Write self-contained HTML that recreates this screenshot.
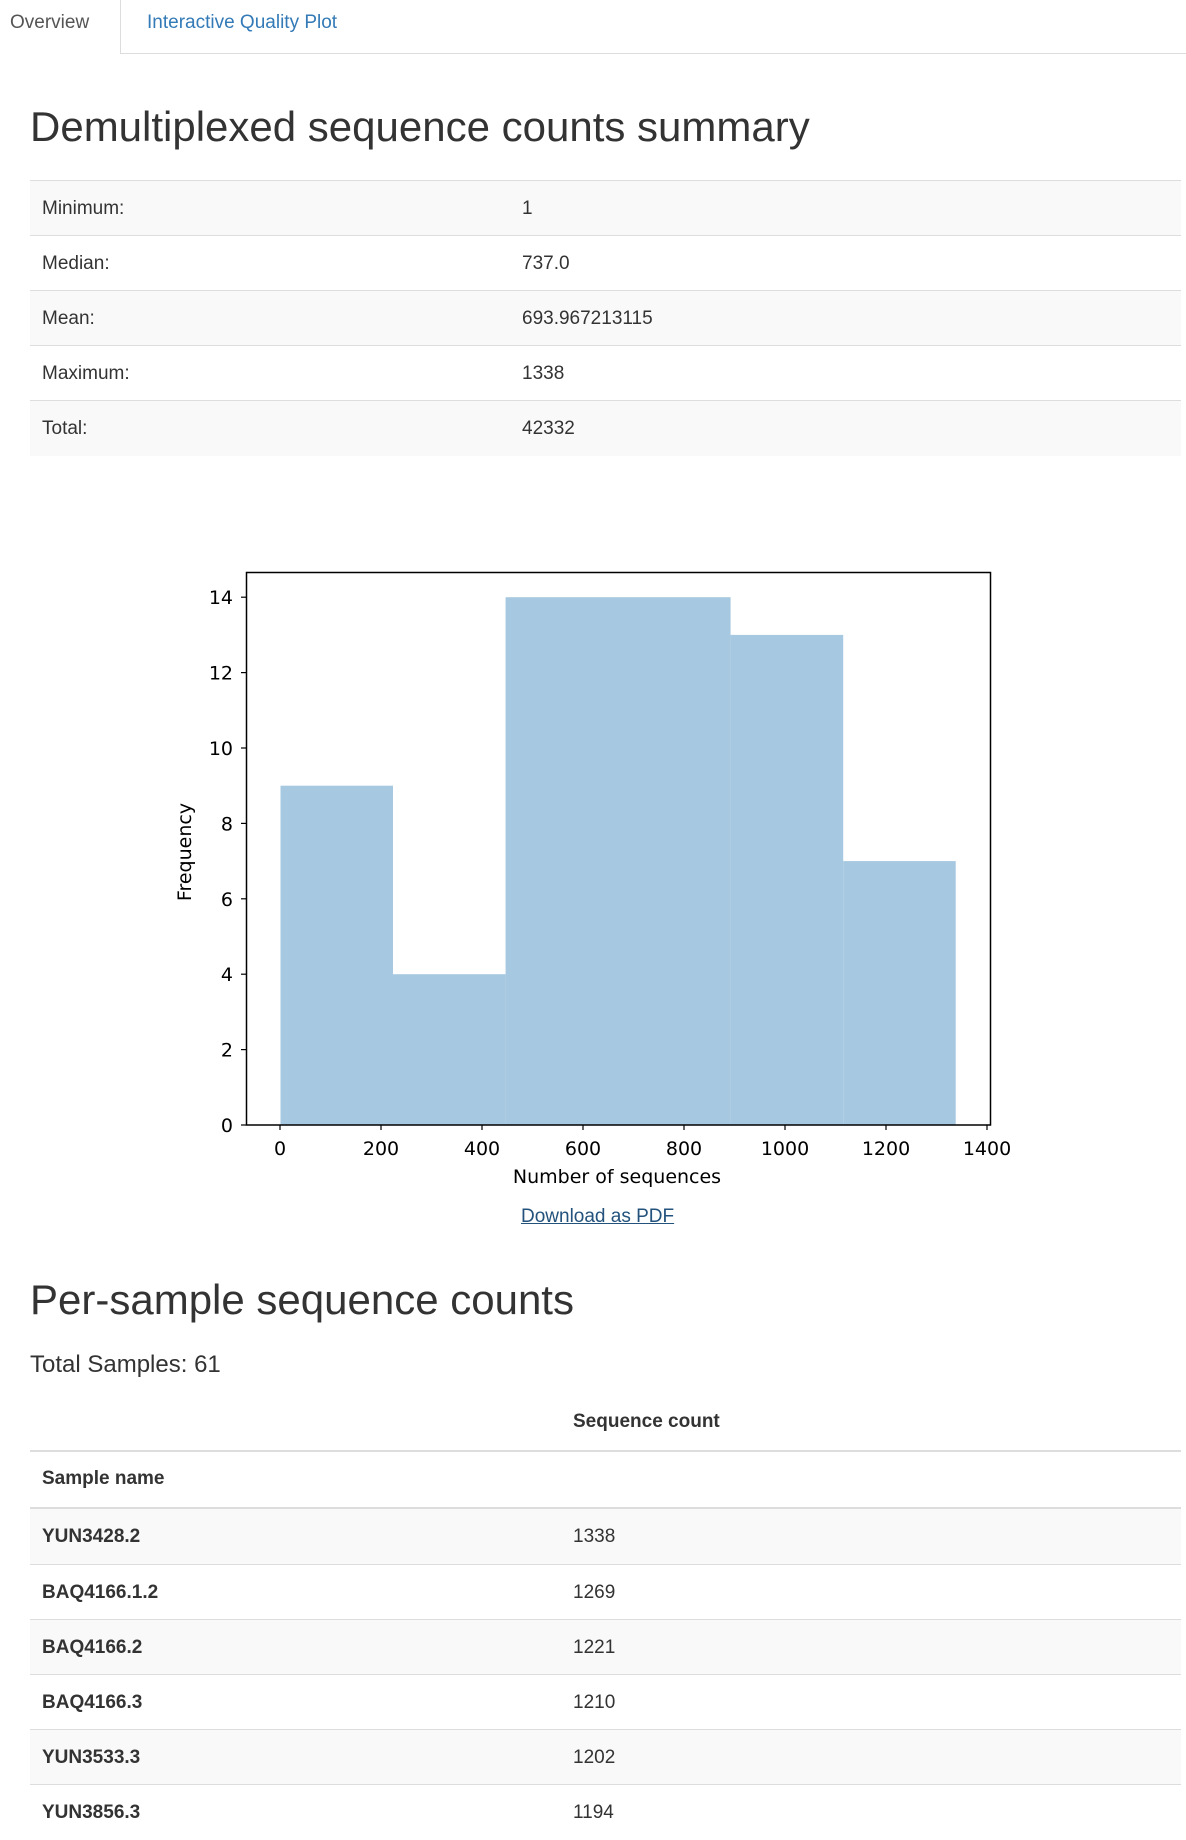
<!DOCTYPE html>
<html><head><meta charset="utf-8"><style>
body{margin:0;width:1186px;height:1831px;position:relative;background:#fff;font-family:"Liberation Sans",sans-serif;color:#333;overflow:hidden}
.a{position:absolute;white-space:nowrap}
.row{position:absolute;left:30px;width:1151px;height:55px;border-top:1px solid #ddd;font-size:19px;line-height:55px}
.row span{position:absolute}
.g{background:#f9f9f9}
</style></head><body>
<div class="a" style="left:0;top:0;width:120px;height:54px;border-right:1px solid #ddd"></div>
<div class="a" style="left:120px;top:53px;width:1066px;height:1px;background:#ddd"></div>
<div class="a" style="left:10px;top:12px;font-size:19px;color:#555">Overview</div>
<div class="a" style="left:147px;top:12px;font-size:19px;color:#337ab7">Interactive Quality Plot</div>
<div class="a" style="left:30px;top:102px;font-size:42px;line-height:50px">Demultiplexed sequence counts summary</div>

<div class="row g" style="top:180px"><span style="left:12px">Minimum:</span><span style="left:492px">1</span></div>
<div class="row" style="top:235px"><span style="left:12px">Median:</span><span style="left:492px">737.0</span></div>
<div class="row g" style="top:290px"><span style="left:12px">Mean:</span><span style="left:492px">693.967213115</span></div>
<div class="row" style="top:345px"><span style="left:12px">Maximum:</span><span style="left:492px">1338</span></div>
<div class="row g" style="top:400px"><span style="left:12px">Total:</span><span style="left:492px">42332</span></div>

<svg class="a" style="left:0;top:0" width="1186" height="1831" font-family="DejaVu Sans, sans-serif" fill="#000">
<g fill="#a6c8e0">
<rect x="280.5" y="785.7" width="112.5" height="339.3"/>
<rect x="393" y="974.2" width="112.6" height="150.8"/>
<rect x="505.6" y="597.2" width="225" height="527.8"/>
<rect x="730.6" y="634.9" width="112.6" height="490.1"/>
<rect x="843.2" y="861.1" width="112.5" height="263.9"/>
</g>
<rect x="246.5" y="572.5" width="744" height="552.5" fill="none" stroke="#000" stroke-width="1.5"/>
<g stroke="#000" stroke-width="1.2">
<line x1="280" y1="1125" x2="280" y2="1130"/><line x1="381" y1="1125" x2="381" y2="1130"/><line x1="482" y1="1125" x2="482" y2="1130"/><line x1="583" y1="1125" x2="583" y2="1130"/><line x1="684" y1="1125" x2="684" y2="1130"/><line x1="785" y1="1125" x2="785" y2="1130"/><line x1="886" y1="1125" x2="886" y2="1130"/><line x1="987" y1="1125" x2="987" y2="1130"/>
<line x1="241" y1="1125" x2="246" y2="1125"/><line x1="241" y1="1049.6" x2="246" y2="1049.6"/><line x1="241" y1="974.2" x2="246" y2="974.2"/><line x1="241" y1="898.8" x2="246" y2="898.8"/><line x1="241" y1="823.4" x2="246" y2="823.4"/><line x1="241" y1="748" x2="246" y2="748"/><line x1="241" y1="672.6" x2="246" y2="672.6"/><line x1="241" y1="597.2" x2="246" y2="597.2"/>
</g>
<g font-size="19" text-anchor="middle">
<text x="280" y="1155">0</text><text x="381" y="1155">200</text><text x="482" y="1155">400</text><text x="583" y="1155">600</text><text x="684" y="1155">800</text><text x="785" y="1155">1000</text><text x="886" y="1155">1200</text><text x="987" y="1155">1400</text>
</g>
<g font-size="19" text-anchor="end">
<text x="233" y="1132">0</text><text x="233" y="1056.6">2</text><text x="233" y="981.2">4</text><text x="233" y="905.8">6</text><text x="233" y="830.4">8</text><text x="233" y="755">10</text><text x="233" y="679.6">12</text><text x="233" y="604.2">14</text>
</g>
<text x="617" y="1183" font-size="19" text-anchor="middle">Number of sequences</text>
<text transform="translate(191,852) rotate(-90)" font-size="19" text-anchor="middle">Frequency</text>
</svg>
<div class="a" style="left:521px;top:1206px;font-size:19px;color:#23527c;text-decoration:underline">Download as PDF</div>

<div class="a" style="left:30px;top:1275px;font-size:42px;line-height:50px">Per-sample sequence counts</div>
<div class="a" style="left:30px;top:1351px;font-size:24px">Total Samples: 61</div>
<div class="a" style="left:573px;top:1411px;font-size:19px;font-weight:bold">Sequence count</div>
<div class="a" style="left:30px;top:1450px;width:1151px;height:2px;background:#ddd"></div>
<div class="a" style="left:42px;top:1468px;font-size:19px;font-weight:bold">Sample name</div>
<div class="a" style="left:30px;top:1507px;width:1151px;height:2px;background:#ddd"></div>
<div class="row g" style="top:1509px;border-top:none;height:55px"><span style="left:12px;font-weight:bold">YUN3428.2</span><span style="left:543px">1338</span></div>
<div class="row" style="top:1564px"><span style="left:12px;font-weight:bold">BAQ4166.1.2</span><span style="left:543px">1269</span></div>
<div class="row g" style="top:1619px"><span style="left:12px;font-weight:bold">BAQ4166.2</span><span style="left:543px">1221</span></div>
<div class="row" style="top:1674px"><span style="left:12px;font-weight:bold">BAQ4166.3</span><span style="left:543px">1210</span></div>
<div class="row g" style="top:1729px"><span style="left:12px;font-weight:bold">YUN3533.3</span><span style="left:543px">1202</span></div>
<div class="row" style="top:1784px"><span style="left:12px;font-weight:bold">YUN3856.3</span><span style="left:543px">1194</span></div>
</body></html>
